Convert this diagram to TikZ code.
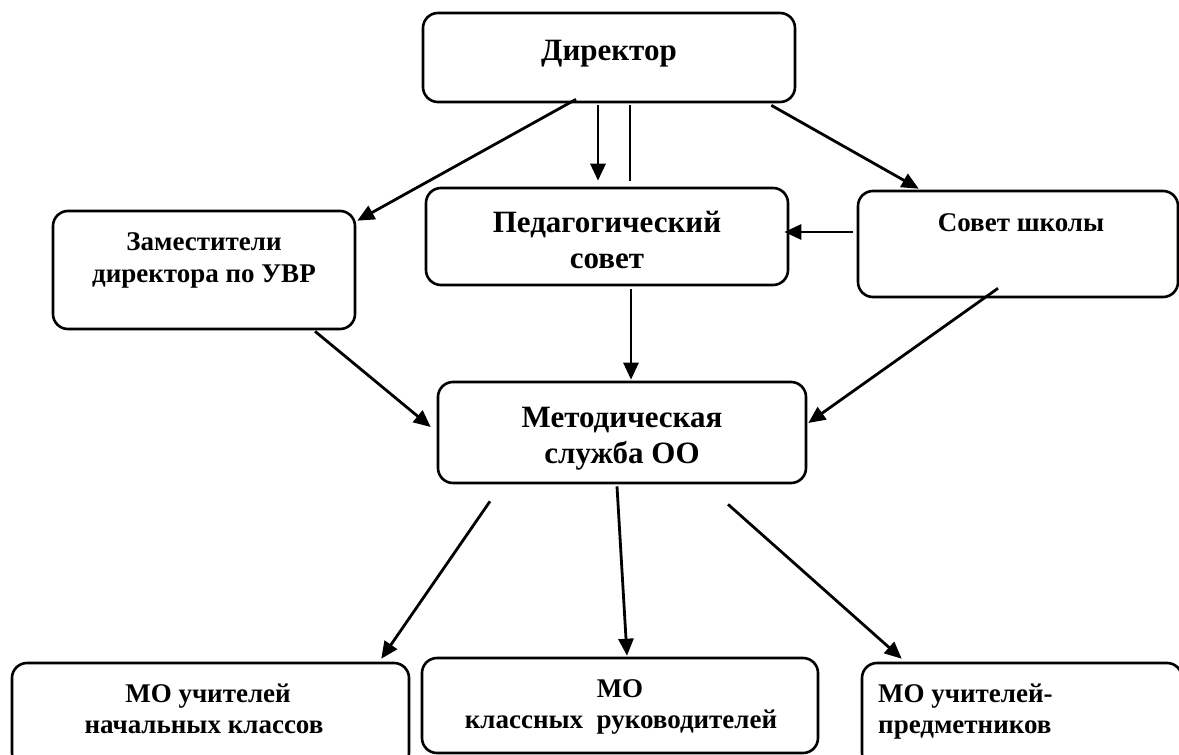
\documentclass[tikz,border=0pt]{standalone}
\usepackage{fontspec}
\setmainfont{Liberation Serif}
\usetikzlibrary{arrows.meta}
\tikzset{
  box/.style={draw, line width=2.6pt, rounded corners=15pt, inner sep=0pt},
  big/.style={font=\fontsize{31}{36}\selectfont\bfseries, inner sep=0pt, anchor=base},
  mid/.style={font=\fontsize{27}{31}\selectfont\bfseries, inner sep=0pt, anchor=base},
  conn/.style={line width=2.8pt, -{Triangle[length=17pt,width=15pt]}},
  plain/.style={line width=2.8pt}
}
\begin{document}
\begin{tikzpicture}[x=1pt,y=-1pt]
\useasboundingbox (0,0) rectangle (1179,755);
\clip (0,0) rectangle (1179,755);
% boxes
\node[box, minimum width=372pt, minimum height=89pt] (dir) at (609,57.5) {};
\node[box, minimum width=362pt, minimum height=97pt] (ped) at (607,236.5) {};
\node[box, minimum width=302pt, minimum height=118pt] (zam) at (204,270) {};
\node[box, minimum width=320pt, minimum height=106pt] (sov) at (1018,244) {};
\node[box, minimum width=368pt, minimum height=101pt] (met) at (622,432.5) {};
\node[box, minimum width=397pt, minimum height=105pt] (mon) at (210.5,715.5) {};
\node[box, minimum width=396pt, minimum height=95pt] (mok) at (620,705.5) {};
\node[box, minimum width=320pt, minimum height=105pt] (mop) at (1022,715.5) {};
% texts
\node[big] (tdir) at (609,60) {Директор};
\node[big] (tped1) at (607,232) {Педагогический};
\node[big] (tped2) at (607,268) {совет};
\node[mid] (tzam1) at (204,250) {Заместители};
\node[mid] (tzam2) at (204,282) {директора по УВР};
\node[mid] (tsov) at (1021,231) {Совет школы};
\node[big] (tmet1) at (622,427) {Методическая};
\node[big] (tmet2) at (622,463) {служба ОО};
\node[mid] (tmon1) at (208,702) {МО учителей};
\node[mid] (tmon2) at (204,733) {начальных классов};
\node[mid] (tmok1) at (620,697) {МО};
\node[mid] (tmok2) at (621,728) {классных\ \ руководителей};
\node[mid, anchor=base west] (tmop1) at (878,702) {МО учителей-};
\node[mid, anchor=base west] (tmop2) at (878,733) {предметников};
% connectors
\draw[conn] ([xshift=-11pt,yshift=-2pt]dir.south) -- ([xshift=-9pt,yshift=6pt]ped.north);
\draw[plain] ([xshift=21pt,yshift=-2pt]dir.south) -- ([xshift=23pt,yshift=6pt]ped.north);
\draw[conn] ([xshift=-33pt,yshift=4pt]dir.south) -- ([xshift=1pt,yshift=-11pt]zam.north east);
\draw[conn] ([xshift=-25pt,yshift=-2pt]dir.south east) -- ([xshift=62pt,yshift=1pt]sov.north west);
\draw[conn] ([xshift=-4pt,yshift=12pt]sov.west) -- ([xshift=-5pt,yshift=4.5pt]ped.east);
\draw[conn] ([xshift=-20pt,yshift=10pt]sov.south) -- ([xshift=1pt,yshift=9.5pt]met.east);
\draw[conn] ([xshift=24pt,yshift=-3pt]ped.south) -- ([xshift=9pt,yshift=1pt]met.north);
\draw[conn] ([xshift=111pt,yshift=-1pt]zam.south) -- ([xshift=-6pt,yshift=5.5pt]met.west);
\draw[conn] ([xshift=-132pt,yshift=-17pt]met.south) -- ([xshift=-29pt,yshift=3pt]mon.north east);
\draw[conn] ([xshift=-5pt,yshift=-2pt]met.south) -- ([xshift=7pt,yshift=1pt]mok.north);
\draw[conn] ([xshift=106pt,yshift=-20pt]met.south) -- ([xshift=41pt,yshift=3pt]mop.north west);
\end{tikzpicture}
\end{document}
